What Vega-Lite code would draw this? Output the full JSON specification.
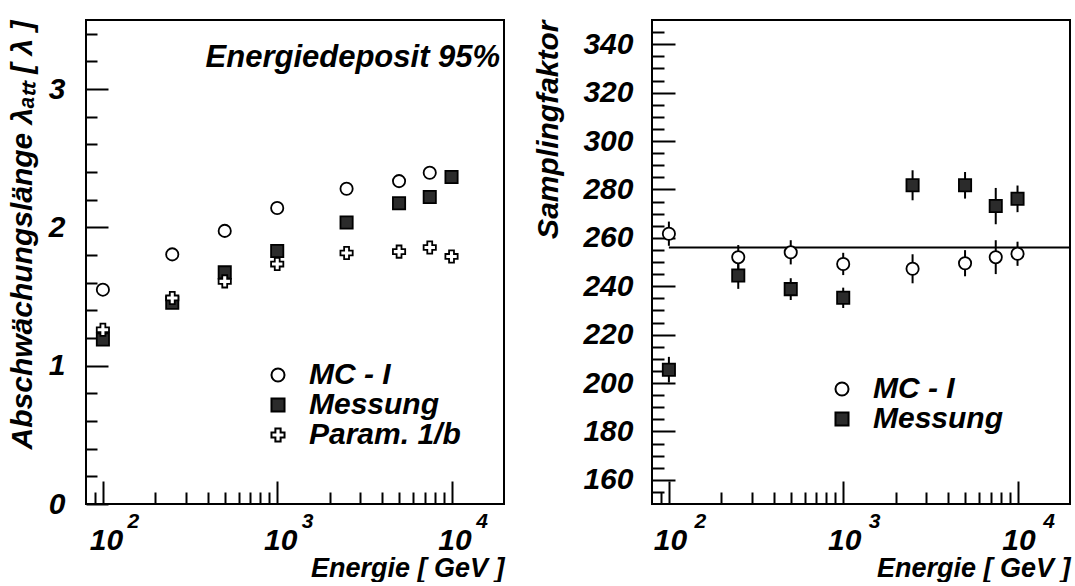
{
  "$schema": "https://vega.github.io/schema/vega-lite/v6.json",
  "background": "white",
  "padding": {"left": 6, "top": 16, "right": 0, "bottom": 0},
  "spacing": 27,
  "config": {
    "view": {"stroke": "black", "strokeWidth": 2},
    "font": "Liberation Sans",
    "axis": {
      "labelFont": "Liberation Sans", "labelFontSize": 30, "labelFontWeight": "bold", "labelFontStyle": "italic", "labelColor": "black",
      "titleFont": "Liberation Sans", "titleFontSize": 27, "titleFontWeight": "bold", "titleFontStyle": "italic", "titleColor": "black",
      "domain": false, "grid": false, "tickColor": "black", "tickWidth": 2, "labelOverlap": false, "labelFlush": false
    },
    "axisY": {"titleFontSize": 30},
    "legend": {
      "labelFont": "Liberation Sans", "labelFontSize": 30, "labelFontWeight": "bold", "labelFontStyle": "italic", "labelColor": "black",
      "padding": 0, "rowPadding": -1, "labelOffset": 16, "symbolStrokeColor": "black", "symbolStrokeWidth": 2, "symbolSize": 170
    }
  },
  "hconcat": [
    {
      "width": 418, "height": 484,
      "data": {"values": [
        {"E": 100, "s": "MC - I", "v": 1.55},
        {"E": 250, "s": "MC - I", "v": 1.805},
        {"E": 500, "s": "MC - I", "v": 1.975},
        {"E": 1000, "s": "MC - I", "v": 2.14},
        {"E": 2500, "s": "MC - I", "v": 2.28},
        {"E": 5000, "s": "MC - I", "v": 2.335},
        {"E": 7500, "s": "MC - I", "v": 2.395},
        {"E": 100, "s": "Messung", "v": 1.19},
        {"E": 250, "s": "Messung", "v": 1.455},
        {"E": 500, "s": "Messung", "v": 1.675},
        {"E": 1000, "s": "Messung", "v": 1.83},
        {"E": 2500, "s": "Messung", "v": 2.035},
        {"E": 5000, "s": "Messung", "v": 2.175},
        {"E": 7500, "s": "Messung", "v": 2.22},
        {"E": 10000, "s": "Messung", "v": 2.365},
        {"E": 100, "s": "Param. 1/b", "v": 1.26},
        {"E": 250, "s": "Param. 1/b", "v": 1.49},
        {"E": 500, "s": "Param. 1/b", "v": 1.61},
        {"E": 1000, "s": "Param. 1/b", "v": 1.735},
        {"E": 2500, "s": "Param. 1/b", "v": 1.815},
        {"E": 5000, "s": "Param. 1/b", "v": 1.825},
        {"E": 7500, "s": "Param. 1/b", "v": 1.855},
        {"E": 10000, "s": "Param. 1/b", "v": 1.79}
      ]},
      "layer": [
        {
          "mark": {"type": "point", "filled": true, "strokeWidth": 1.8, "opacity": 1, "size": 150},
          "encoding": {
            "x": {"field": "E", "type": "quantitative",
              "scale": {"type": "log", "domain": [80, 20000], "nice": false},
              "axis": {
                "orient": "bottom",
                "values": [90,100,200,300,400,500,600,700,800,900,1000,2000,3000,4000,5000,6000,7000,8000,9000,10000],
                "tickSize": {"condition": {"test": "datum.value == 100 || datum.value == 1000 || datum.value == 10000", "value": -23}, "value": -12},
                "labelExpr": "(datum.value == 100 || datum.value == 1000 || datum.value == 10000) ? '10' : ''",
                "labelPadding": 44, "labelOffset": 3,
                "title": "Energie [ GeV ]", "titleAnchor": "end", "titlePadding": -11
              }},
            "y": {"field": "v", "type": "quantitative",
              "scale": {"domain": [0, 3.5], "nice": false, "zero": false},
              "axis": {
                "orient": "left",
                "values": [0,0.2,0.4,0.6,0.8,1,1.2,1.4,1.6,1.8,2,2.2,2.4,2.6,2.8,3,3.2,3.4],
                "tickSize": {"condition": {"test": "datum.value % 1 == 0", "value": -22}, "value": -11},
                "labelExpr": "datum.value % 1 == 0 ? format(datum.value, 'd') : ''",
                "labelPadding": 43,
                "title": "Abschwächungslänge λₐₜₜ [ λ ]", "titleAnchor": "end", "titlePadding": 11
              }},
            "shape": {"field": "s", "type": "nominal",
              "scale": {"domain": ["MC - I", "Messung", "Param. 1/b"], "range": ["circle", "square", "cross"]},
              "legend": {"title": null, "orient": "none", "legendX": 177, "legendY": 340}},
            "fill": {"field": "s", "type": "nominal",
              "scale": {"domain": ["MC - I", "Messung", "Param. 1/b"], "range": ["white", "#2b2b2b", "white"]},
              "legend": {"title": null, "orient": "none", "legendX": 177, "legendY": 340}},
            "stroke": {"field": "s", "type": "nominal",
              "scale": {"domain": ["MC - I", "Messung", "Param. 1/b"], "range": ["black", "black", "black"]},
              "legend": {"title": null, "orient": "none", "legendX": 177, "legendY": 340}}
          }
        },
        {
          "data": {"values": [{"label": "Energiedeposit 95%", "lx": 19000, "ly": 3.16}]},
          "mark": {"type": "text", "align": "right", "baseline": "alphabetic", "fontSize": 31, "fontWeight": "bold", "fontStyle": "italic", "font": "Liberation Sans", "color": "black"},
          "encoding": {
            "x": {"field": "lx", "type": "quantitative",
              "axis": {"orient": "bottom", "values": [100, 1000, 10000], "ticks": false, "tickSize": 0,
                "labelExpr": "datum.value == 100 ? '2' : datum.value == 1000 ? '3' : '4'",
                "labelFontSize": 21, "labelOffset": 30, "labelPadding": 6, "title": null}},
            "y": {"field": "ly", "type": "quantitative",
              "axis": {
                "orient": "left",
                "values": [0,0.2,0.4,0.6,0.8,1,1.2,1.4,1.6,1.8,2,2.2,2.4,2.6,2.8,3,3.2,3.4],
                "tickSize": {"condition": {"test": "datum.value % 1 == 0", "value": -22}, "value": -11},
                "labelExpr": "datum.value % 1 == 0 ? format(datum.value, 'd') : ''",
                "labelPadding": 43,
                "title": "Abschwächungslänge λₐₜₜ [ λ ]", "titleAnchor": "end", "titlePadding": 11
              }},
            "text": {"field": "label"}
          }
        }
      ],
      "resolve": {"axis": {"x": "independent"}}
    },
    {
      "width": 418, "height": 484,
      "data": {"values": [
        {"E": 100, "s": "MC - I", "v": 261.7, "lo": 256.7, "hi": 266.7},
        {"E": 250, "s": "MC - I", "v": 252.0, "lo": 247.0, "hi": 257.0},
        {"E": 500, "s": "MC - I", "v": 254.0, "lo": 249.0, "hi": 259.0},
        {"E": 1000, "s": "MC - I", "v": 249.2, "lo": 244.6, "hi": 253.8},
        {"E": 2500, "s": "MC - I", "v": 247.2, "lo": 241.2, "hi": 253.2},
        {"E": 5000, "s": "MC - I", "v": 249.5, "lo": 244.1, "hi": 254.9},
        {"E": 7500, "s": "MC - I", "v": 252.0, "lo": 245.0, "hi": 259.0},
        {"E": 10000, "s": "MC - I", "v": 253.4, "lo": 248.4, "hi": 258.4},
        {"E": 100, "s": "Messung", "v": 205.5, "lo": 200.2, "hi": 210.8},
        {"E": 250, "s": "Messung", "v": 244.4, "lo": 238.9, "hi": 249.9},
        {"E": 500, "s": "Messung", "v": 238.8, "lo": 234.3, "hi": 243.3},
        {"E": 1000, "s": "Messung", "v": 235.2, "lo": 231.0, "hi": 239.4},
        {"E": 2500, "s": "Messung", "v": 281.7, "lo": 275.5, "hi": 287.9},
        {"E": 5000, "s": "Messung", "v": 281.7, "lo": 276.2, "hi": 287.2},
        {"E": 7500, "s": "Messung", "v": 273.1, "lo": 265.6, "hi": 280.6},
        {"E": 10000, "s": "Messung", "v": 276.1, "lo": 270.6, "hi": 281.6}
      ]},
      "layer": [
        {
          "mark": {"type": "rule", "color": "black", "strokeWidth": 2},
          "encoding": {
            "x": {"field": "E", "type": "quantitative",
              "scale": {"type": "log", "domain": [80, 20000], "nice": false},
              "axis": {
                "orient": "bottom",
                "values": [90,100,200,300,400,500,600,700,800,900,1000,2000,3000,4000,5000,6000,7000,8000,9000,10000],
                "tickSize": {"condition": {"test": "datum.value == 100 || datum.value == 1000 || datum.value == 10000", "value": -23}, "value": -12},
                "labelExpr": "(datum.value == 100 || datum.value == 1000 || datum.value == 10000) ? '10' : ''",
                "labelPadding": 44, "labelOffset": 1,
                "title": "Energie [ GeV ]", "titleAnchor": "end", "titlePadding": -11
              }},
            "y": {"field": "lo", "type": "quantitative",
              "scale": {"domain": [150, 350], "nice": false, "zero": false},
              "axis": {
                "orient": "left",
                "values": [155,160,165,170,175,180,185,190,195,200,205,210,215,220,225,230,235,240,245,250,255,260,265,270,275,280,285,290,295,300,305,310,315,320,325,330,335,340,345],
                "tickSize": {"condition": {"test": "datum.value % 20 == 0", "value": -23}, "value": -12},
                "labelExpr": "datum.value % 20 == 0 ? format(datum.value, 'd') : ''",
                "labelPadding": 42,
                "title": "Samplingfaktor", "titleAnchor": "end", "titlePadding": 19
              }},
            "y2": {"field": "hi"}
          }
        },
        {
          "data": {"values": [{"fit": 256, "f1": 100, "f2": 20000}]},
          "mark": {"type": "rule", "color": "black", "strokeWidth": 2},
          "encoding": {
            "x": {"field": "f1", "type": "quantitative",
              "axis": {"orient": "bottom", "values": [100, 1000, 10000], "ticks": false, "tickSize": 0,
                "labelExpr": "datum.value == 100 ? '2' : datum.value == 1000 ? '3' : '4'",
                "labelFontSize": 21, "labelOffset": 31, "labelPadding": 6, "title": null}},
            "x2": {"field": "f2"},
            "y": {"field": "fit", "type": "quantitative",
              "axis": {
                "orient": "left",
                "values": [155,160,165,170,175,180,185,190,195,200,205,210,215,220,225,230,235,240,245,250,255,260,265,270,275,280,285,290,295,300,305,310,315,320,325,330,335,340,345],
                "tickSize": {"condition": {"test": "datum.value % 20 == 0", "value": -23}, "value": -12},
                "labelExpr": "datum.value % 20 == 0 ? format(datum.value, 'd') : ''",
                "labelPadding": 42,
                "title": "Samplingfaktor", "titleAnchor": "end", "titlePadding": 19
              }}
          }
        },
        {
          "mark": {"type": "point", "filled": true, "strokeWidth": 1.8, "opacity": 1, "size": 150},
          "encoding": {
            "x": {"field": "E", "type": "quantitative", "axis": null},
            "y": {"field": "v", "type": "quantitative",
              "axis": {
                "orient": "left",
                "values": [155,160,165,170,175,180,185,190,195,200,205,210,215,220,225,230,235,240,245,250,255,260,265,270,275,280,285,290,295,300,305,310,315,320,325,330,335,340,345],
                "tickSize": {"condition": {"test": "datum.value % 20 == 0", "value": -23}, "value": -12},
                "labelExpr": "datum.value % 20 == 0 ? format(datum.value, 'd') : ''",
                "labelPadding": 42,
                "title": "Samplingfaktor", "titleAnchor": "end", "titlePadding": 19
              }},
            "shape": {"field": "s", "type": "nominal",
              "scale": {"domain": ["MC - I", "Messung"], "range": ["circle", "square"]},
              "legend": {"title": null, "orient": "none", "legendX": 175, "legendY": 354}},
            "fill": {"field": "s", "type": "nominal",
              "scale": {"domain": ["MC - I", "Messung"], "range": ["white", "#2b2b2b"]},
              "legend": {"title": null, "orient": "none", "legendX": 175, "legendY": 354}},
            "stroke": {"field": "s", "type": "nominal",
              "scale": {"domain": ["MC - I", "Messung"], "range": ["black", "black"]},
              "legend": {"title": null, "orient": "none", "legendX": 175, "legendY": 354}}
          }
        }
      ],
      "resolve": {"axis": {"x": "independent"}}
    }
  ],
  "resolve": {"scale": {"shape": "independent", "fill": "independent", "stroke": "independent"}}
}
